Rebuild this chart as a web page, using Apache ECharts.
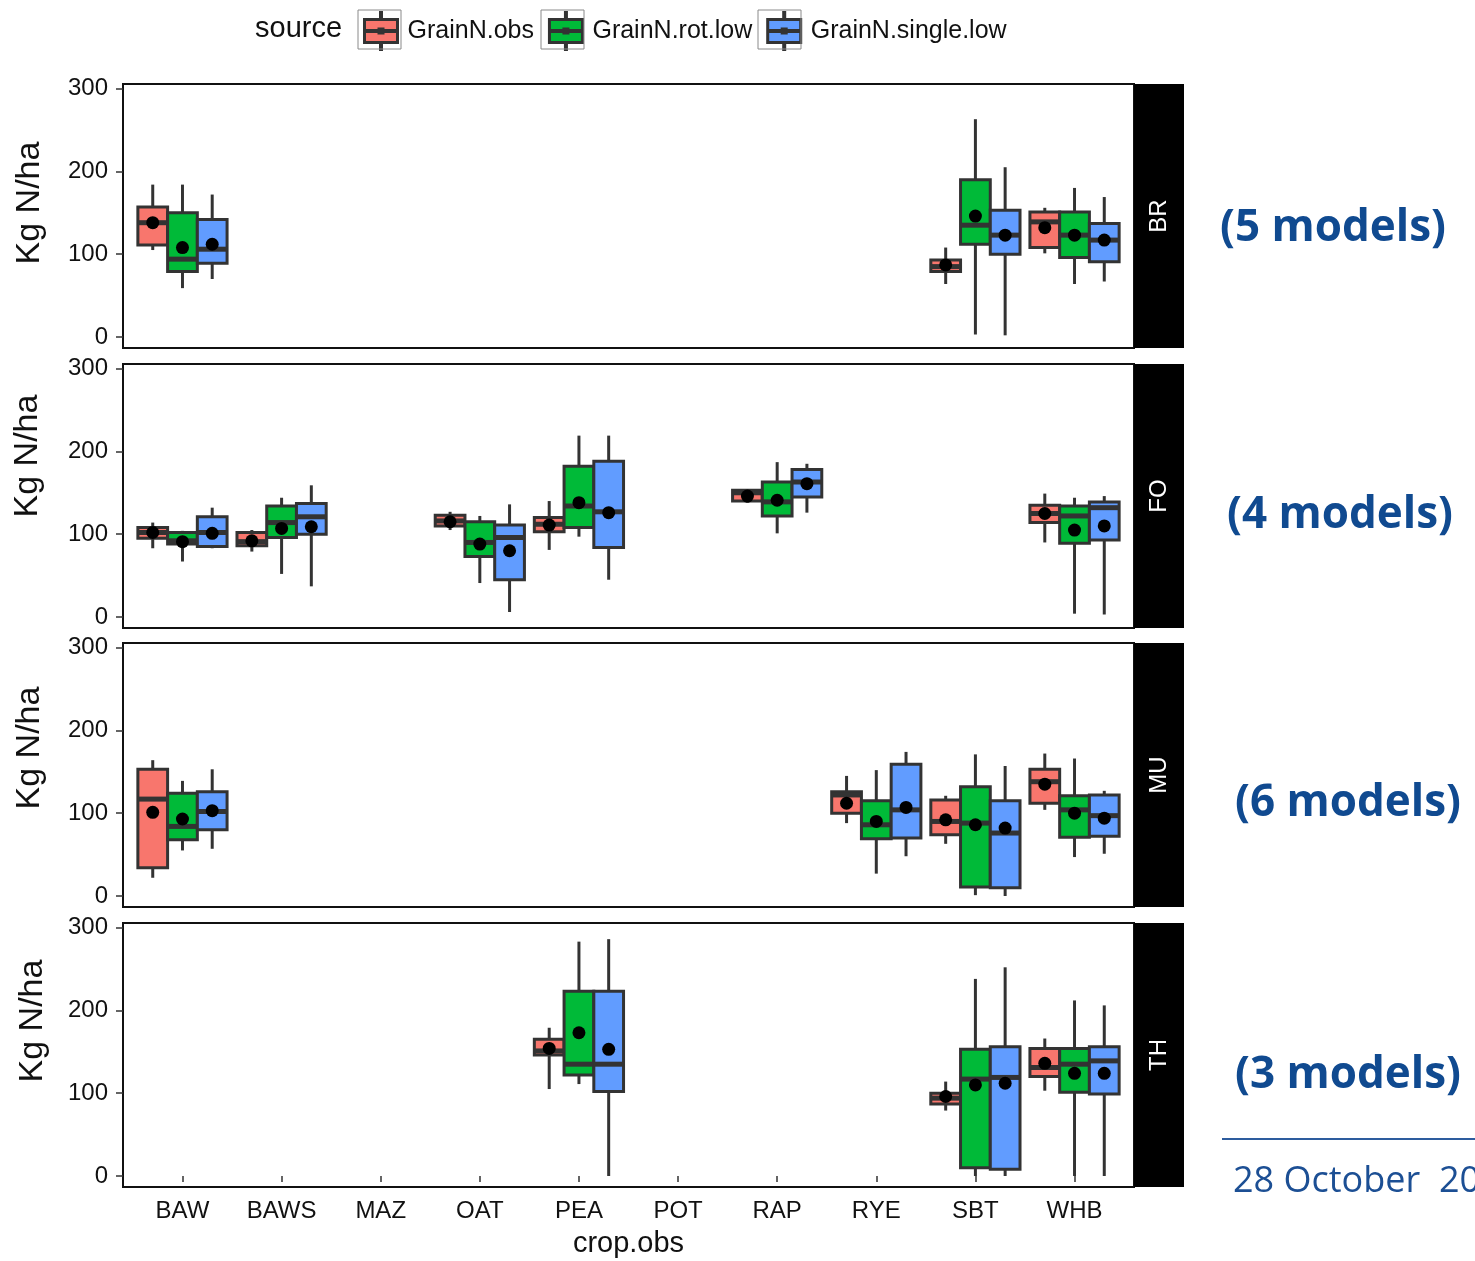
<!DOCTYPE html>
<html><head><meta charset="utf-8">
<script src="https://cdn.jsdelivr.net/npm/echarts@6/dist/echarts.min.js"></script>
<style>html,body{margin:0;padding:0;background:#fff}#c{width:1475px;height:1261px}</style>
</head><body><div id="c"></div>
<script>
const crops = ['BAW','BAWS','MAZ','OAT','PEA','POT','RAP','RYE','SBT','WHB'];
const sources = ['GrainN.obs','GrainN.rot.low','GrainN.single.low'];
const sourceColors = ['#F8766D','#00BA38','#619CFF'];
const sites = ['BR','FO','MU','TH'];
const modelNotes = ['(5 models)','(4 models)','(6 models)','(3 models)'];
const yTicks = [0,100,200,300];
const dateNote = '28 October  20';

// each row: [crop, lower whisker, Q1, median, Q3, upper whisker, mean]
const BR_obs = [['BAW',105,111,138,157,184,138],['SBT',64,79,85,93,108,87],['WHB',101,108,139,151,156,132]];
const BR_rot = [['BAW',59,79,94,150,184,108],['SBT',3,112,135,190,263,146],['WHB',64,96,123,151,180,123]];
const BR_single = [['BAW',70,89,106,142,172,112],['SBT',2,100,123,153,205,123],['WHB',67,91,117,137,169,117]];

const FO_obs = [['BAW',83,95,102,108,114,102],['BAWS',79,86,91,102,105,92],['OAT',105,110,116,123,127,115],['PEA',81,103,112,120,140,111],['RAP',138,140,150,153,154,146],['WHB',90,114,125,135,149,125]];
const FO_rot = [['BAW',67,88,92,102,104,91],['BAWS',52,96,114,134,144,107],['OAT',41,73,90,115,122,88],['PEA',97,108,134,182,219,138],['RAP',101,122,139,163,187,141],['WHB',4,89,122,134,144,105]];
const FO_single = [['BAW',83,85,102,121,132,101],['BAWS',37,100,121,137,159,109],['OAT',6,45,96,111,136,80],['PEA',45,84,127,188,219,126],['RAP',126,145,163,178,185,161],['WHB',3,93,132,139,146,110]];

const MU_obs = [['BAW',22,34,117,153,164,101],['RYE',88,100,122,126,145,112],['SBT',63,74,90,116,121,92],['WHB',104,112,138,153,172,135]];
const MU_rot = [['BAW',55,68,84,124,139,93],['RYE',27,69,86,115,152,90],['SBT',1,11,88,132,171,86],['WHB',47,71,104,121,166,100]];
const MU_single = [['BAW',57,80,102,126,153,103],['RYE',48,70,104,159,174,107],['SBT',0,10,76,115,157,82],['WHB',51,72,97,122,127,94]];

const TH_obs = [['PEA',105,146,151,165,179,154],['SBT',79,87,94,100,114,96],['WHB',103,120,131,154,166,136]];
const TH_rot = [['PEA',111,122,135,223,283,173],['SBT',0,10,117,153,238,110],['WHB',0,101,135,154,212,124]];
const TH_single = [['PEA',0,102,135,223,286,153],['SBT',0,8,119,156,252,112],['WHB',0,99,139,156,206,124]];

const siteData = {
  BR: [BR_obs, BR_rot, BR_single],
  FO: [FO_obs, FO_rot, FO_single],
  MU: [MU_obs, MU_rot, MU_single],
  TH: [TH_obs, TH_rot, TH_single]
};

const FONT = 'Liberation Sans';
const panelTops = [84, 364, 643, 923];
const yNameShift = [13, 40, 27, 34];
const yNameGap = [76, 78, 76, 73];
const panelH = 264, panelL = 123, panelW = 1011, stripW = 50;
const BOX_W = 0.3;

const grids = [], xAxes = [], yAxes = [], series = [], graphics = [];

sites.forEach((site, gi) => {
  const isLast = gi === sites.length - 1;
  grids.push({left: panelL, top: panelTops[gi], width: panelW, height: panelH,
    show: true, borderColor: '#111', borderWidth: 2, backgroundColor: '#fff', containLabel: false});
  xAxes.push({type: 'value', gridIndex: gi, min: 0.4, max: 10.6,
    axisLine: {show: false}, splitLine: {show: false},
    axisTick: {show: isLast, customValues: crops.map((c, i) => i + 1), length: 6, lineStyle: {color: '#333', width: 1.5}},
    axisLabel: {show: isLast, customValues: crops.map((c, i) => i + 1), formatter: v => crops[Math.round(v) - 1] || '',
      fontSize: 24, color: '#111', fontFamily: FONT, margin: 12},
    name: isLast ? 'crop.obs' : '', nameLocation: 'middle', nameGap: 42,
    nameTextStyle: {fontSize: 29, color: '#111', fontFamily: FONT}
  });
  yAxes.push({type: 'value', gridIndex: gi, min: -13.3, max: 305.5,
    axisLine: {show: false}, splitLine: {show: false},
    axisTick: {show: true, customValues: yTicks, length: 7, lineStyle: {color: '#333', width: 1.5}},
    axisLabel: {show: true, customValues: yTicks, fontSize: 24, color: '#111', fontFamily: FONT, margin: 15},
    name: 'Kg N/ha', nameLocation: 'middle', nameGap: yNameGap[gi], nameRotate: 90,
    nameTextStyle: {fontSize: 34, color: '#111', fontFamily: FONT, padding: [0, 0, 0, 2 * yNameShift[gi]]}
  });
  siteData[site].forEach((rows, si) => {
    const color = sourceColors[si];
    series.push({
      type: 'custom', name: sources[si], xAxisIndex: gi, yAxisIndex: gi,
      itemStyle: {color: color},
      dimensions: ['x','lo','q1','med','q3','hi','mean'],
      encode: {x: 0, y: [1,2,3,4,5,6]},
      data: rows.map(r => [crops.indexOf(r[0]) + 1, r[1], r[2], r[3], r[4], r[5], r[6]]),
      renderItem: function (params, api) {
        const x = api.value(0) + (si - 1) * BOX_W;
        const lo = api.coord([x, api.value(1)]);
        const q1 = api.coord([x, api.value(2)]);
        const med = api.coord([x, api.value(3)]);
        const q3 = api.coord([x, api.value(4)]);
        const hi = api.coord([x, api.value(5)]);
        const mn = api.coord([x, api.value(6)]);
        const xl = api.coord([x - BOX_W / 2, 0])[0];
        const xr = api.coord([x + BOX_W / 2, 0])[0];
        const stroke = '#333';
        return {type: 'group', children: [
          {type: 'line', shape: {x1: lo[0], y1: hi[1], x2: lo[0], y2: q3[1]}, style: {stroke, lineWidth: 3}},
          {type: 'line', shape: {x1: lo[0], y1: q1[1], x2: lo[0], y2: lo[1]}, style: {stroke, lineWidth: 3}},
          {type: 'rect', shape: {x: xl, y: q3[1], width: xr - xl, height: q1[1] - q3[1]}, style: {fill: color, stroke, lineWidth: 3}},
          {type: 'line', shape: {x1: xl, y1: med[1], x2: xr, y2: med[1]}, style: {stroke, lineWidth: 5}},
          {type: 'circle', shape: {cx: mn[0], cy: mn[1], r: 6.5}, style: {fill: '#000'}}
        ]};
      }
    });
  });
  // facet strip
  graphics.push({type: 'rect', shape: {x: panelL + panelW, y: panelTops[gi], width: stripW, height: panelH}, style: {fill: '#000'}});
  graphics.push({type: 'text', x: panelL + panelW + stripW / 2, y: panelTops[gi] + panelH / 2, rotation: Math.PI / 2,
    style: {text: site, fill: '#fff', font: '24px ' + FONT, align: 'center', verticalAlign: 'middle'}});
});

// legend key frames (ggplot key background)
[358, 541, 758].forEach(x => {
  graphics.push({type: 'rect', shape: {x: x, y: 10, width: 43, height: 39}, style: {fill: 'none', stroke: '#8a8a8a', lineWidth: 1}, z: 100});
});

const noteCenters = [[1333, 228], [1340, 515], [1348, 803], [1348, 1075]];
modelNotes.forEach((t, i) => {
  graphics.push({type: 'text', x: noteCenters[i][0], y: noteCenters[i][1],
    style: {text: t, fill: '#104a90', font: 'bold 44px "Open Sans"', align: 'center', verticalAlign: 'middle'}});
});
graphics.push({type: 'line', shape: {x1: 1222, y1: 1139, x2: 1475, y2: 1139}, style: {stroke: '#2d5c9e', lineWidth: 2}});
graphics.push({type: 'text', x: 1233, y: 1182, style: {text: dateNote, fill: '#1c4f94', font: '36px "Open Sans"', align: 'left', verticalAlign: 'middle'}});

const keyIcon = 'path://M0 0M43 39M5 8L38 8L38 31L5 31ZM21 1L22 1L22 8L21 8ZM21 31L22 31L22 38L21 38ZM5 19L38 19L38 20L5 20ZM19.5 17.5L23.5 17.5L23.5 21.5L19.5 21.5Z';

const chart = echarts.init(document.getElementById('c'), null, {renderer: 'canvas'});
chart.setOption({
  animation: false,
  backgroundColor: '#fff',
  title: {text: 'source', left: 250, top: 9, textStyle: {fontSize: 29, fontWeight: 'normal', color: '#111', fontFamily: FONT}},
  legend: {data: sources, left: 358, top: 10, padding: 0, icon: keyIcon, itemWidth: 43, itemHeight: 39, itemGap: 9,
    itemStyle: {borderColor: '#333', borderWidth: 3},
    textStyle: {fontSize: 25, color: '#111', fontFamily: FONT}},
  grid: grids, xAxis: xAxes, yAxis: yAxes, series: series,
  graphic: graphics
});
</script></body></html>
